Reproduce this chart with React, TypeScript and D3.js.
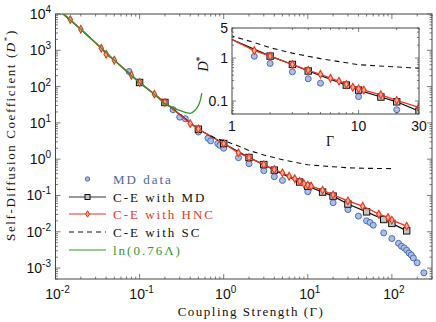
import React, { useEffect, useRef } from 'react';
import * as d3 from 'd3';

// MD data (circles)
const mdGamma = [0.075, 0.25, 0.3, 0.35, 0.5, 0.65, 0.7, 0.85, 0.9, 1, 1.5, 2, 3, 4, 5, 10, 20, 30, 40, 50, 55, 60, 80, 100, 120, 130, 140, 150, 160, 170, 180, 200, 240];
const mdD = [260, 23, 14.4, 13, 5.6, 3.8, 3.2, 2.7, 2.4, 2.0, 1.1, 0.75, 0.48, 0.33, 0.26, 0.127, 0.063, 0.041, 0.027, 0.02, 0.018, 0.0152, 0.0093, 0.0065, 0.0048, 0.004, 0.0036, 0.0031, 0.0026, 0.0023, 0.0019, 0.0014, 0.00074];

// C-E with MD (squares drawn from 0.1 on)
const ceMdGamma = [0.01, 0.02, 0.05, 0.1, 0.2, 0.5, 1, 2, 3, 4, 8, 10, 15, 20, 30, 50, 80, 100, 150];
const ceMdD = [15000, 3800, 535, 130, 36.5, 6.7, 2.7, 1.11, 0.71, 0.5, 0.235, 0.18, 0.124, 0.096, 0.058, 0.0354, 0.0218, 0.017, 0.0106];
const ceMdMarkerFrom = 0.1;

// C-E with HNC (diamonds)
const hncGamma = [0.01, 0.015, 0.02, 0.035, 0.04, 0.05, 0.08, 0.1, 0.15, 0.2, 0.4, 0.5, 1, 1.5, 2, 3, 4, 5, 6, 7, 8, 9, 10, 11, 15, 20, 30, 45, 70, 90, 100, 150];
const hncD = [16000, 7000, 3800, 1140, 780, 533, 206, 130, 62, 36.5, 9.6, 6.8, 2.7, 1.49, 1.11, 0.71, 0.52, 0.42, 0.34, 0.29, 0.245, 0.21, 0.193, 0.18, 0.14, 0.104, 0.071, 0.0507, 0.0305, 0.0248, 0.021, 0.0143];

// C-E with SC (dashed)
const scGamma = [0.7, 0.8, 1, 1.5, 2, 3, 5, 10, 20, 30, 50, 100];
const scD = [4.4, 3.8, 3.25, 2.3, 1.74, 1.3, 0.97, 0.7, 0.62, 0.58, 0.56, 0.55];

// ln(0.76 Lambda) (green)
const lnGamma = [0.01, 0.02, 0.05, 0.1, 0.15, 0.2, 0.25, 0.3, 0.35, 0.4, 0.45, 0.5, 0.53, 0.55];
const lnD = [15000, 3800, 535, 128, 61, 34, 26.5, 22, 19.6, 18.2, 21.5, 30, 44, 66];

const mainXTicks = [-2, -1, 0, 1, 2];
const mainYTicks = [-3, -2, -1, 0, 1, 2, 3, 4];
const insetXLabels = [1, 10, 30];
const insetYLabels = ['0.1', '1', '5'];

const legendLabels = ['MD data', 'C-E with MD', 'C-E with HNC', 'C-E with SC', 'ln(0.76Λ)'];

const RED = '#e8371d';
const GREEN = '#2e9a2e';
const BLUE_FILL = '#a9bfe6';
const BLUE_STROKE = '#4a6db3';
const SQ_FILL = '#c4c4c4';
const DIA_FILL = '#f7ad98';
const FRAME = '#444';
const SANS = '"Liberation Sans", Arial, sans-serif';
const SERIF = '"Liberation Serif", "Times New Roman", serif';

type Pt = [number, number];
const zip = (a: number[], b: number[]): Pt[] => a.map((v, i) => [v, b[i]]);

function logTicks(lo: number, hi: number) {
  const out: { v: number; major: boolean }[] = [];
  for (let e = Math.floor(Math.log10(lo)); e <= Math.ceil(Math.log10(hi)); e++) {
    for (let k = 1; k <= 9; k++) {
      const v = k * Math.pow(10, e);
      if (v >= lo * 0.9999 && v <= hi * 1.0001) out.push({ v, major: k === 1 });
    }
  }
  return out;
}

function drawFrame(g: any, x: any, y: any, major: number, minor: number) {
  const [x0, x1] = x.range();
  const [y0, y1] = y.range();
  const xd = x.domain(), yd = y.domain();
  const tk = g.append('g').attr('stroke', FRAME).attr('stroke-width', 0.7);
  logTicks(xd[0], xd[1]).forEach(t => {
    const px = x(t.v), l = t.major ? major : minor;
    tk.append('line').attr('x1', px).attr('x2', px).attr('y1', y0).attr('y2', y0 - l);
    tk.append('line').attr('x1', px).attr('x2', px).attr('y1', y1).attr('y2', y1 + l);
  });
  logTicks(yd[0], yd[1]).forEach(t => {
    const py = y(t.v), l = t.major ? major : minor;
    tk.append('line').attr('x1', x0).attr('x2', x0 + l).attr('y1', py).attr('y2', py);
    tk.append('line').attr('x1', x1).attr('x2', x1 - l).attr('y1', py).attr('y2', py);
  });
  g.append('rect').attr('x', x0).attr('y', y1).attr('width', x1 - x0).attr('height', y0 - y1)
    .attr('fill', 'none').attr('stroke', FRAME).attr('stroke-width', 1);
}

function drawSeries(g: any, x: any, y: any, inset: boolean) {
  const line = d3.line<Pt>().x(d => x(d[0])).y(d => y(d[1]));
  const keep = (d: Pt) => !inset || d[0] > 1.01;

  // MD data
  g.append('g').selectAll('circle').data(zip(mdGamma, mdD).filter(keep)).join('circle')
    .attr('cx', (d: Pt) => x(d[0])).attr('cy', (d: Pt) => y(d[1])).attr('r', 3)
    .attr('fill', BLUE_FILL).attr('stroke', BLUE_STROKE).attr('stroke-width', 1);

  // C-E with MD
  const md = zip(ceMdGamma, ceMdD);
  g.append('path').attr('d', line(md)).attr('fill', 'none').attr('stroke', '#111').attr('stroke-width', 1.2);
  g.append('g').selectAll('rect').data(md.filter(d => d[0] >= ceMdMarkerFrom).filter(keep)).join('rect')
    .attr('x', (d: Pt) => x(d[0]) - 3.2).attr('y', (d: Pt) => y(d[1]) - 3.2).attr('width', 6.4).attr('height', 6.4)
    .attr('fill', SQ_FILL).attr('stroke', '#111').attr('stroke-width', 1);

  // C-E with HNC
  const hnc = zip(hncGamma, hncD);
  g.append('path').attr('d', line(hnc)).attr('fill', 'none').attr('stroke', RED).attr('stroke-width', 1.3);
  g.append('g').selectAll('path').data(hnc.filter(keep)).join('path')
    .attr('d', d3.symbol(d3.symbolDiamond, 17)())
    .attr('transform', (d: Pt) => `translate(${x(d[0])},${y(d[1])})`)
    .attr('fill', DIA_FILL).attr('stroke', RED).attr('stroke-width', 1.1);

  // C-E with SC
  g.append('path').attr('d', line(zip(scGamma, scD))).attr('fill', 'none').attr('stroke', '#111')
    .attr('stroke-width', 1.1).attr('stroke-dasharray', '5,4');

  // ln(0.76 Lambda)
  if (!inset) {
    const lineG = d3.line<Pt>().x(d => x(d[0])).y(d => y(d[1])).curve(d3.curveMonotoneX);
    g.append('path').attr('d', lineG(zip(lnGamma, lnD))).attr('fill', 'none').attr('stroke', GREEN).attr('stroke-width', 1.3);
  }
}

export default function App() {
  const ref = useRef<SVGSVGElement>(null);

  useEffect(() => {
    const svg = d3.select(ref.current);
    svg.selectAll('*').remove();

    const x = d3.scaleLog().domain([0.01, 300]).range([55.5, 432]);
    const y = d3.scaleLog().domain([5e-4, 1e4]).range([279, 14]);

    const defs = svg.append('defs');
    defs.append('clipPath').attr('id', 'clipMain').append('rect')
      .attr('x', 55.5).attr('y', 14).attr('width', 376.5).attr('height', 265);

    const main = svg.append('g');
    drawFrame(main, x, y, 5, 2.5);
    drawSeries(main.append('g').attr('clip-path', 'url(#clipMain)'), x, y, false);

    // x tick labels
    mainXTicks.forEach(e => {
      const t = main.append('text').attr('x', x(Math.pow(10, e)) + 2).attr('y', 299)
        .attr('text-anchor', 'middle').attr('font-family', SANS).attr('font-size', 14).attr('fill', '#111');
      t.append('tspan').text('10');
      t.append('tspan').attr('dy', -6).attr('font-size', 10).text(String(e));
    });
    // y tick labels
    mainYTicks.forEach(e => {
      const t = main.append('text').attr('x', 51).attr('y', y(Math.pow(10, e)) + 5)
        .attr('text-anchor', 'end').attr('font-family', SANS).attr('font-size', 14).attr('fill', '#111');
      t.append('tspan').text('10');
      t.append('tspan').attr('dy', -6).attr('font-size', 10).text(String(e));
    });

    // axis titles
    const xl = main.append('text').attr('x', 251).attr('y', 316).attr('text-anchor', 'middle')
      .attr('font-family', SERIF).attr('font-size', 13).attr('letter-spacing', 1.5).attr('fill', '#111');
    xl.append('tspan').text('Coupling Strength (Γ)');

    const yl = main.append('text').attr('transform', 'translate(15,135) rotate(-90)').attr('text-anchor', 'middle')
      .attr('font-family', SERIF).attr('font-size', 13).attr('letter-spacing', 1.6).attr('fill', '#111');
    yl.append('tspan').text('Self-Diffusion Coefficient (');
    yl.append('tspan').attr('font-style', 'italic').text('D');
    yl.append('tspan').attr('dy', -5).attr('font-size', 9).text('*');
    yl.append('tspan').attr('dy', 5).text(')');

    // legend
    const leg = main.append('g');
    const rows = [179, 197, 214, 232, 250];
    const colors = ['#4f64a0', '#111', RED, '#111', GREEN];
    legendLabels.forEach((lab, i) => {
      const ry = rows[i];
      if (i === 0) {
        leg.append('circle').attr('cx', 87.5).attr('cy', ry).attr('r', 2.2)
          .attr('fill', BLUE_FILL).attr('stroke', BLUE_STROKE).attr('stroke-width', 1);
      } else {
        leg.append('line').attr('x1', 69).attr('x2', 106).attr('y1', ry).attr('y2', ry)
          .attr('stroke', i === 1 ? '#333' : i === 2 ? RED : i === 3 ? '#111' : GREEN)
          .attr('stroke-width', 1.2).attr('stroke-dasharray', i === 3 ? '5,4' : null);
        if (i === 1) leg.append('rect').attr('x', 85).attr('y', ry - 2.5).attr('width', 5).attr('height', 5)
          .attr('fill', SQ_FILL).attr('stroke', '#111').attr('stroke-width', 1);
        if (i === 2) leg.append('path').attr('d', d3.symbol(d3.symbolDiamond, 12)())
          .attr('transform', `translate(87.5,${ry})`).attr('fill', DIA_FILL).attr('stroke', RED).attr('stroke-width', 1);
      }
      leg.append('text').attr('x', 113).attr('y', ry + 4.5).attr('font-family', SERIF).attr('font-size', 13)
        .attr('letter-spacing', 2).attr('fill', colors[i]).text(lab);
    });

    // inset
    const xi = d3.scaleLog().domain([1, 30]).range([232, 419]);
    const yi = d3.scaleLog().domain([0.05, 5]).range([114, 28]);
    defs.append('clipPath').attr('id', 'clipInset').append('rect')
      .attr('x', 232).attr('y', 28).attr('width', 187).attr('height', 86);
    const ins = svg.append('g');
    ins.append('rect').attr('x', 232).attr('y', 28).attr('width', 187).attr('height', 86).attr('fill', '#fff');
    drawSeries(ins.append('g').attr('clip-path', 'url(#clipInset)'), xi, yi, true);
    drawFrame(ins, xi, yi, 4, 2);

    insetXLabels.forEach(v => {
      ins.append('text').attr('x', xi(v)).attr('y', 131).attr('text-anchor', 'middle')
        .attr('font-family', SANS).attr('font-size', 14).attr('fill', '#111').text(String(v));
    });
    insetYLabels.forEach(v => {
      ins.append('text').attr('x', 228).attr('y', yi(+v) + 5).attr('text-anchor', 'end')
        .attr('font-family', SANS).attr('font-size', 14).attr('fill', '#111').text(v);
    });
    ins.append('text').attr('x', 330).attr('y', 146).attr('text-anchor', 'middle')
      .attr('font-family', SERIF).attr('font-size', 14).attr('fill', '#111').text('Γ');
    const dl = ins.append('text').attr('transform', 'translate(208,64) rotate(-90)').attr('text-anchor', 'middle')
      .attr('font-family', SERIF).attr('font-size', 14).attr('fill', '#111');
    dl.append('tspan').attr('font-style', 'italic').text('D');
    dl.append('tspan').attr('dy', -5).attr('font-size', 10).text('*');
  }, []);

  return <svg ref={ref} width={436} height={322} style={{ position: 'absolute', left: 0, top: 0, background: '#fff' }} />;
}
